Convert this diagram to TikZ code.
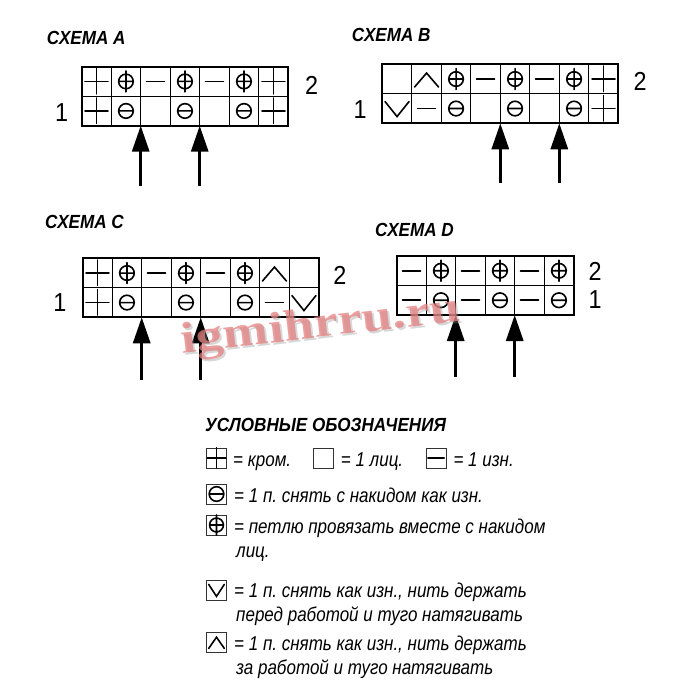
\documentclass[tikz,border=0pt]{standalone}
\usepackage{fontspec}
\setmainfont{Liberation Sans}
\newfontfamily\narrowfont[FakeStretch=0.9]{Liberation Sans}
\newfontfamily\legfont[FakeStretch=0.85]{Liberation Sans}
\newfontfamily\wmfont{Liberation Serif}
\usetikzlibrary{
  arrows.meta,
  positioning
}
\frenchspacing
\newcommand\cellw{29.5}
\newcommand\cellh{29.5}
\tikzset{
  sym/.style={line width=1.6pt, line cap=round},
  title/.style={anchor=west, inner sep=0pt, font=\narrowfont\bfseries\itshape\fontsize{19}{19}\selectfont},
  rownum/.style={inner sep=0pt, font=\narrowfont\fontsize{26}{26}\selectfont},
  legtext/.style={anchor=base west, inner sep=0pt, align=left, font=\legfont\itshape\fontsize{20}{24}\selectfont},
  legbox/.style={draw=black!80, line width=0.9pt, minimum size=20pt, inner sep=0pt},
  uparrow/.style={line width=3pt, -{Triangle[length=26pt,width=17pt]}},
  pics/kr/.style={code={\draw[sym] (-11.5,0) -- (11.5,0) (0,-13) -- (0,12.5);}},
  pics/np/.style={code={\draw[sym] (0,0) circle (7.3) (-7.3,0) -- (7.3,0) (0,-10.5) -- (0,10.5);}},
  pics/sn/.style={code={\draw[sym] (0,0) circle (7.3) (-7.3,0) -- (7.3,0);}},
  pics/iz/.style={code={\draw[sym] (-9,0) -- (9,0);}},
  pics/li/.style={code={}},
  pics/up/.style={code={\draw[sym] (-12,8) -- (0,-6) -- (12,8);}},
  pics/dn/.style={code={\draw[sym] (-12,-7) -- (0,8) -- (12,-7);}},
}
% #1 name, #2 #3 top left, #4 columns, #5 row 2, #6 row 1
\newcommand\chart[6]{%
  \begin{scope}[shift={(#2,#3)}]
    \foreach \s [count=\i] in {#5}
      \pic at ({(\i-0.5)*\cellw},{0.5*\cellh}) {\s};
    \foreach \s [count=\i] in {#6}
      \pic at ({(\i-0.5)*\cellw},{1.5*\cellh}) {\s};
    \foreach \i in {0,...,#4}
      \draw[line width=0.9pt] (\i*\cellw,0) -- (\i*\cellw,2*\cellh);
    \draw[line width=0.9pt] (0,\cellh) -- (#4*\cellw,\cellh);
    \draw[line width=2.2pt] (0,0) rectangle (#4*\cellw,2*\cellh);
    \foreach \i in {0,...,#4}
      \coordinate (#1-\i) at (\i*\cellw,2*\cellh);
  \end{scope}}

\begin{document}
\begin{tikzpicture}[x=1pt,y=-1pt]
  \useasboundingbox (0,0) rectangle (700,700);

  % charts
  \chart{A}{81.7}{66.7}{7}{kr,np,iz,np,iz,np,kr}{kr,sn,li,sn,li,sn,kr}
  \chart{B}{382.3}{64.3}{8}{li,up,np,iz,np,iz,np,kr}{dn,iz,sn,li,sn,li,sn,kr}
  \chart{C}{82.7}{258.3}{8}{kr,np,iz,np,iz,np,up,li}{kr,sn,li,sn,li,sn,iz,dn}
  \chart{D}{396.7}{256}{6}{iz,np,iz,np,iz,np}{iz,sn,iz,sn,iz,sn}

  \node[title] (titleA) at (46.7,38) {СХЕМА A};
  \node[title] (titleB) at (351.7,35) {СХЕМА B};
  \node[title] (titleC) at (45,221.7) {СХЕМА C};
  \node[title] (titleD) at (375,230) {СХЕМА D};

  \node[rownum] (numA1) at (61.7,113) {1};
  \node[rownum] (numA2) at (311.7,85) {2};
  \node[rownum] (numB1) at (360,110) {1};
  \node[rownum] (numB2) at (640,81.7) {2};
  \node[rownum] (numC1) at (60,303) {1};
  \node[rownum] (numC2) at (340,275) {2};
  \node[rownum] (numD2) at (595,271.7) {2};
  \node[rownum] (numD1) at (595,300) {1};

  % arrows
  \coordinate (tailA2) at ([yshift=-60pt]A-2);
  \coordinate (tailA4) at ([yshift=-60pt]A-4);
  \coordinate (tailB4) at ([yshift=-60pt]B-4);
  \coordinate (tailB6) at ([yshift=-60pt]B-6);
  \coordinate (tailC2) at ([yshift=-63pt]C-2);
  \coordinate (tailC4) at ([yshift=-63pt]C-4);
  \coordinate (tailD2) at ([yshift=-62pt]D-2);
  \coordinate (tailD4) at ([yshift=-62pt]D-4);
  \foreach \a/\b in {tailA2/A-2, tailA4/A-4, tailB4/B-4, tailB6/B-6,
                     tailC2/C-2, tailC4/C-4, tailD2/D-2, tailD4/D-4}
    \draw[uparrow] (\a) -- (\b);

  % legend
  \node[title] (legtitle) at (205,425) {УСЛОВНЫЕ ОБОЗНАЧЕНИЯ};

  \node[legbox] (boxkr) at (216.5,458) {};
  \pic[scale=0.8] at (boxkr) {kr};
  \node[legtext] (txtkr) at (233,466) {= кром.};
  \node[legbox] (boxli) at (323.5,458) {};
  \node[legtext] (txtli) at (340.7,466) {= 1 лиц.};
  \node[legbox] (boxiz) at (436,458) {};
  \pic[scale=0.9] at (boxiz) {iz};
  \node[legtext] (txtiz) at (453.3,466) {= 1 изн.};

  \node[legbox] (boxsn) at (216.5,494) {};
  \pic at (boxsn) {sn};
  \node[legtext] (txtsn) at (234,502) {= 1 п. снять с накидом как изн.};

  \node[legbox] (boxnp) at (216.5,525) {};
  \pic[scale=0.95] at (boxnp) {np};
  \node[legtext] (txtnp) at (234,557) {= петлю провязать вместе с накидом\\\hspace{2pt}лиц.};

  \node[legbox] (boxdn) at (216.5,590) {};
  \pic[xscale=0.65,yscale=0.8] at (boxdn) {dn};
  \node[legtext] (txtdn) at (234,621) {= 1 п. снять как изн., нить держать\\\hspace{2pt}перед работой и туго натягивать};

  \node[legbox] (boxup) at (216.5,642) {};
  \pic[xscale=0.65,yscale=0.8] at (boxup) {up};
  \node[legtext] (txtup) at (234,674) {= 1 п. снять как изн., нить держать\\\hspace{2pt}за работой и туго натягивать};

  % watermark
  \node[anchor=base, inner sep=0pt, rotate=6.6, xscale=1.24, text=black!45, opacity=0.35,
        font=\wmfont\bfseries\fontsize{44}{44}\selectfont] (wmshadow) at (324,339) {igmihrru.ru};
  \node[anchor=base, inner sep=0pt, rotate=6.6, xscale=1.24, text={rgb,255:red,228;green,128;blue,128}, opacity=0.75,
        font=\wmfont\bfseries\fontsize{44}{44}\selectfont] (wmark) at (322,337) {igmihrru.ru};
\end{tikzpicture}
\end{document}
